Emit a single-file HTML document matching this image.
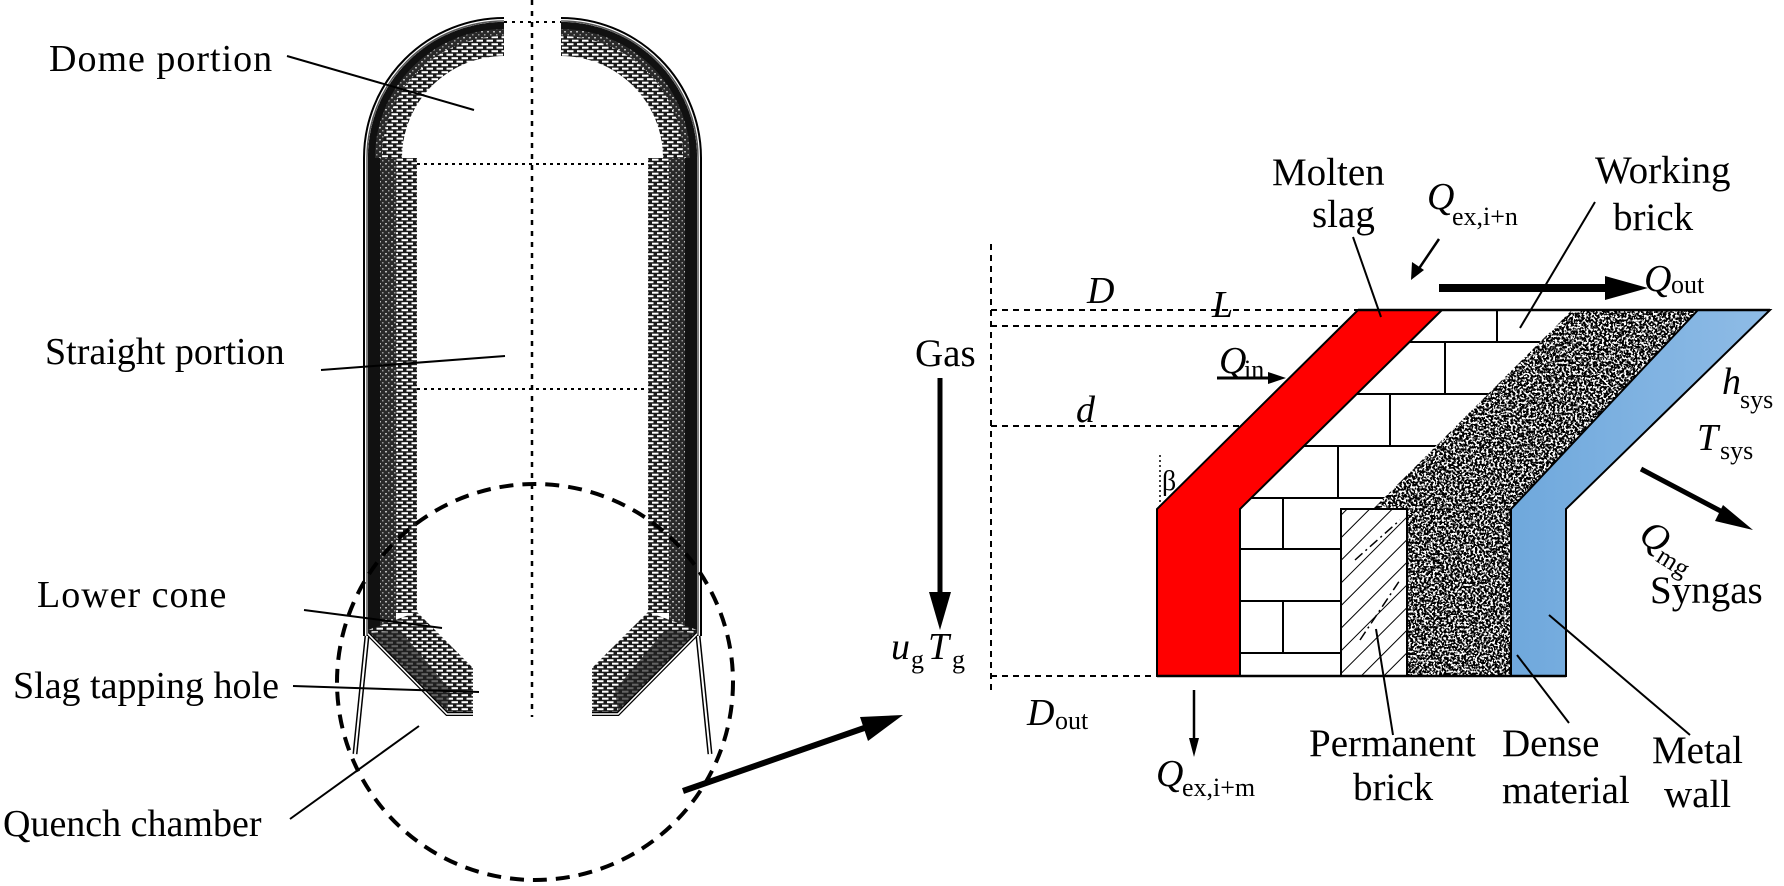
<!DOCTYPE html>
<html><head><meta charset="utf-8"><style>
html,body{margin:0;padding:0;background:#fff;}
svg{display:block;}
text{font-family:"Liberation Serif",serif;fill:#000;}
.it{font-style:italic;}
</style></head><body>
<svg width="1784" height="886" viewBox="0 0 1784 886" xmlns="http://www.w3.org/2000/svg">
<defs>
<pattern id="brk" width="10" height="7" patternUnits="userSpaceOnUse">
<rect width="10" height="7" fill="#1a1a1a"/>
<rect x="1.5" y="1.2" width="6.5" height="2" fill="#fff"/>
<rect x="-3.5" y="4.7" width="6.5" height="2" fill="#fff"/>
<rect x="6.5" y="4.7" width="6.5" height="2" fill="#fff"/>
</pattern>
<pattern id="stp" width="6" height="6" patternUnits="userSpaceOnUse">
<rect width="6" height="6" fill="#2a2a2a"/>
<rect x="1" y="1" width="2" height="1.5" fill="#bbb"/>
<rect x="4" y="4" width="1.5" height="1.5" fill="#999"/>
</pattern>
<pattern id="hatch" width="16" height="16" patternUnits="userSpaceOnUse" patternTransform="rotate(45)">
<rect width="16" height="16" fill="#fff"/>
<line x1="0" y1="0" x2="0" y2="16" stroke="#000" stroke-width="2"/>
</pattern>
<filter id="noise" x="0" y="0" width="100%" height="100%">
<feTurbulence type="fractalNoise" baseFrequency="0.45" numOctaves="2" seed="3"/>
<feColorMatrix type="matrix" values="0 0 0 0 0  0 0 0 0 0  0 0 0 0 0  0 0 0 -9 5.3"/>
<feComposite in2="SourceGraphic" operator="in"/>
</filter>
<clipPath id="denseClip"><polygon points="1572,310 1698,310 1511,509 1511,676 1407,676 1407,509 1373,509"/></clipPath>
<clipPath id="wbClip"><polygon points="1442,310 1572,310 1373,509 1341,509 1341,676 1240,676 1240,509"/></clipPath>
</defs>

<!-- LEFT VESSEL -->
<g id="half">
  <path d="M368,158 A136,136 0 0 1 504,22 L504,56 A102,102 0 0 0 402,158 Z" fill="url(#brk)"/>
  <path d="M368,158 A136,136 0 0 1 504,22 L504,36 A122,122 0 0 0 382,158 Z" fill="url(#stp)"/>
  <path d="M368,158 A136,136 0 0 1 504,22 L504,29 A129,129 0 0 0 375,158 Z" fill="#111"/>
  <rect x="368" y="158" width="12" height="475" fill="#111"/>
  <rect x="380" y="158" width="16" height="475" fill="url(#stp)"/>
  <rect x="396" y="158" width="21" height="455" fill="url(#brk)"/>
  <polygon points="368,630 417,612 473,668 473,712 447,712 368,633" fill="url(#brk)"/>
  <polygon points="368,633 400,630 450,690 447,712" fill="#222" opacity="0.7"/>
  <path d="M364,636 L364,158 A140,140 0 0 1 504,18" fill="none" stroke="#000" stroke-width="2"/>
  <path d="M367,636 L367,158 A137,137 0 0 1 504,21" fill="none" stroke="#555" stroke-width="1.5"/>
  <path d="M368,634 L447,714 L473,714" fill="none" stroke="#000" stroke-width="4"/>
  <path d="M368,634 L447,714 L473,714" fill="none" stroke="#fff" stroke-width="1.5"/>
  <line x1="367" y1="636" x2="355" y2="754" stroke="#000" stroke-width="5"/>
  <line x1="367" y1="636" x2="355" y2="754" stroke="#fff" stroke-width="2"/>
</g>
<use href="#half" transform="translate(1065,0) scale(-1,1)"/>

<line x1="532" y1="0" x2="532" y2="717" stroke="#000" stroke-width="2.5" stroke-dasharray="5,6"/>
<line x1="504" y1="22" x2="561" y2="22" stroke="#000" stroke-width="2" stroke-dasharray="3,5"/>
<line x1="417" y1="164" x2="648" y2="164" stroke="#000" stroke-width="2" stroke-dasharray="3,4"/>
<line x1="417" y1="389" x2="648" y2="389" stroke="#000" stroke-width="2" stroke-dasharray="3,4"/>

<circle cx="535" cy="682" r="198" fill="none" stroke="#000" stroke-width="4" stroke-dasharray="14,9"/>

<line x1="683" y1="791" x2="870" y2="726" stroke="#000" stroke-width="6"/>
<polygon points="903,715 868,741 860,717" fill="#000"/>

<g font-size="38">
<text x="49" y="71" letter-spacing="1">Dome portion</text>
<text x="45" y="364">Straight portion</text>
<text x="37" y="607" letter-spacing="1">Lower cone</text>
<text x="13" y="698">Slag tapping hole</text>
<text x="3" y="836">Quench chamber</text>
</g>
<g stroke="#000" stroke-width="2">
<line x1="287" y1="56" x2="474" y2="110"/>
<line x1="321" y1="370" x2="505" y2="356"/>
<line x1="304" y1="610" x2="442" y2="628"/>
<line x1="293" y1="686" x2="479" y2="692"/>
<line x1="290" y1="819" x2="419" y2="726"/>
</g>

<!-- RIGHT DIAGRAM -->
<g stroke="#000" stroke-width="2" stroke-dasharray="6,5">
<line x1="991" y1="244" x2="991" y2="695"/>
<line x1="991" y1="310" x2="1358" y2="310"/>
<line x1="991" y1="326" x2="1345" y2="326"/>
<line x1="991" y1="426" x2="1243" y2="426"/>
<line x1="991" y1="676" x2="1157" y2="676"/>
</g>
<polygon points="1442,310 1572,310 1373,509 1341,509 1341,676 1240,676 1240,509" fill="#fff"/>
<g clip-path="url(#wbClip)" stroke="#000" stroke-width="2">
<line x1="1200" y1="342" x2="1600" y2="342"/>
<line x1="1200" y1="394" x2="1600" y2="394"/>
<line x1="1200" y1="446" x2="1600" y2="446"/>
<line x1="1200" y1="498" x2="1600" y2="498"/>
<line x1="1200" y1="549" x2="1600" y2="549"/>
<line x1="1200" y1="601" x2="1600" y2="601"/>
<line x1="1200" y1="653" x2="1600" y2="653"/>
<line x1="1497" y1="310" x2="1497" y2="342"/>
<line x1="1445" y1="342" x2="1445" y2="394"/>
<line x1="1390" y1="394" x2="1390" y2="446"/>
<line x1="1338" y1="446" x2="1338" y2="498"/>
<line x1="1283" y1="498" x2="1283" y2="549"/>
<line x1="1283" y1="601" x2="1283" y2="653"/>
</g>
<g clip-path="url(#denseClip)">
<rect x="1360" y="300" width="350" height="390" fill="#fff"/>
<rect x="1360" y="300" width="350" height="390" fill="#000" filter="url(#noise)"/>
</g>
<rect x="1341" y="509" width="66" height="167" fill="url(#hatch)" stroke="#000" stroke-width="2"/>
<line x1="1355" y1="560" x2="1400" y2="520" stroke="#000" stroke-width="1.5" stroke-dasharray="10,4,2,4"/>
<line x1="1360" y1="640" x2="1400" y2="580" stroke="#000" stroke-width="1.5" stroke-dasharray="10,4,2,4"/>
<polygon points="1358,310 1442,310 1240,509 1240,676 1157,676 1157,509" fill="#f00" stroke="#000" stroke-width="2"/>
<linearGradient id="bg" x1="0" y1="0" x2="1" y2="0"><stop offset="0" stop-color="#6fa8dc"/><stop offset="1" stop-color="#8fbce6"/></linearGradient>
<polygon points="1698,310 1770,310 1566,509 1566,676 1511,676 1511,509" fill="url(#bg)" stroke="#000" stroke-width="2"/>
<line x1="1358" y1="310" x2="1770" y2="310" stroke="#000" stroke-width="2.5"/>
<line x1="1157" y1="676" x2="1566" y2="676" stroke="#000" stroke-width="2.5"/>

<line x1="940" y1="378" x2="940" y2="595" stroke="#000" stroke-width="5"/>
<polygon points="929,592 951,592 940,630" fill="#000"/>
<line x1="1439" y1="288" x2="1610" y2="288" stroke="#000" stroke-width="8"/>
<polygon points="1605,276 1648,288 1605,300" fill="#000"/>
<line x1="1439" y1="239" x2="1418" y2="270" stroke="#000" stroke-width="2.5"/>
<polygon points="1411,280 1412,262 1424,270" fill="#000"/>
<line x1="1217" y1="378" x2="1270" y2="378" stroke="#000" stroke-width="3"/>
<polygon points="1268,372 1286,378 1268,384" fill="#000"/>
<line x1="1194" y1="690" x2="1194" y2="740" stroke="#000" stroke-width="2.5"/>
<polygon points="1189,738 1199,738 1194,757" fill="#000"/>
<line x1="1641" y1="469" x2="1730" y2="516" stroke="#000" stroke-width="5"/>
<polygon points="1723,505 1753,530 1715,521" fill="#000"/>
<line x1="1160" y1="455" x2="1160" y2="507" stroke="#000" stroke-width="1.5" stroke-dasharray="2,3"/>

<g stroke="#000" stroke-width="2">
<line x1="1353" y1="237" x2="1381" y2="317"/>
<line x1="1595" y1="202" x2="1520" y2="328"/>
<line x1="1393" y1="735" x2="1376" y2="629"/>
<line x1="1569" y1="723" x2="1517" y2="655"/>
<line x1="1690" y1="735" x2="1549" y2="615"/>
</g>

<g font-size="39">
<text x="1272" y="185">Molten</text>
<text x="1312" y="227">slag</text>
<text x="1595" y="183">Working</text>
<text x="1613" y="230">brick</text>
<text x="915" y="366">Gas</text>
<text x="1309" y="756">Permanent</text>
<text x="1353" y="800">brick</text>
<text x="1502" y="756">Dense</text>
<text x="1502" y="803">material</text>
<text x="1652" y="763">Metal</text>
<text x="1664" y="807">wall</text>
<text x="1650" y="603">Syngas</text>
</g>
<g font-size="38">
<text class="it" x="1427" y="209">Q</text><text x="1452" y="225" font-size="26">ex,i+n</text>
<text class="it" x="1644" y="291">Q</text><text x="1671" y="293" font-size="26">out</text>
<text class="it" x="1087" y="303">D</text>
<text class="it" x="1212" y="317">L</text>
<text class="it" x="1219" y="373">Q</text><text x="1244" y="378" font-size="26">in</text>
<text class="it" x="1076" y="422">d</text>
<text x="1162" y="490" font-size="28">β</text>
<text class="it" x="891" y="659">u</text><text x="911" y="668" font-size="26">g</text>
<text class="it" x="928" y="659">T</text><text x="952" y="668" font-size="26">g</text>
<text class="it" x="1027" y="725">D</text><text x="1055" y="729" font-size="26">out</text>
<text class="it" x="1156" y="786">Q</text><text x="1182" y="796" font-size="26">ex,i+m</text>
<text class="it" x="1722" y="394">h</text><text x="1740" y="408" font-size="26">sys</text>
<text class="it" x="1697" y="450">T</text><text x="1720" y="459" font-size="26">sys</text>
<g transform="translate(1637,540) rotate(32)"><text class="it" x="0" y="0">Q</text><text x="26" y="8" font-size="26">mg</text></g>
</g>
</svg>
</body></html>
